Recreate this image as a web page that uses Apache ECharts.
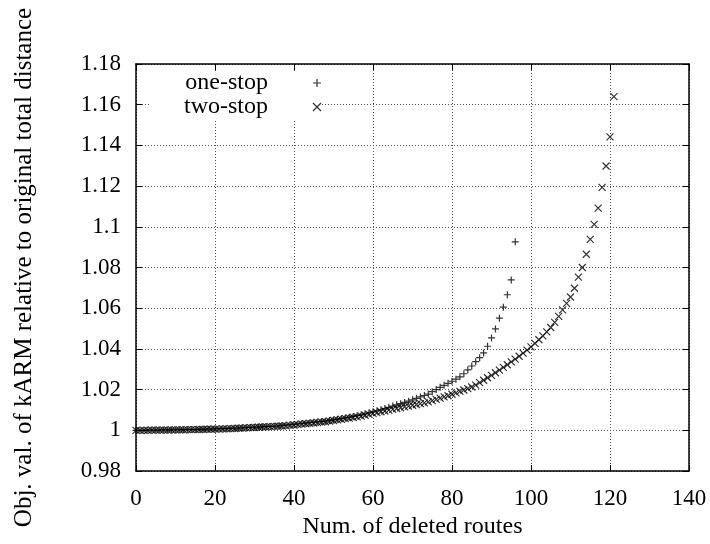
<!DOCTYPE html>
<html>
<head>
<meta charset="utf-8">
<script src="https://cdn.jsdelivr.net/npm/echarts@6/dist/echarts.min.js"></script>
<style>
html,body{margin:0;padding:0;background:#fff;}
#chart{width:710px;height:544px;}
</style>
</head>
<body>
<div id="chart"></div>
<script>
// ---- data ----
var xTicks = [0, 20, 40, 60, 80, 100, 120, 140];
var yTicks = [0.98, 1, 1.02, 1.04, 1.06, 1.08, 1.1, 1.12, 1.14, 1.16, 1.18];
var seriesNames = ['one-stop', 'two-stop'];

// one-stop: deleted routes 0..96
var oneStop = [
  1.0000, 1.0000, 1.0000, 1.0001, 1.0001, 1.0001, 1.0001, 1.0002, 1.0002, 1.0002,
  1.0002, 1.0003, 1.0003, 1.0003, 1.0004, 1.0004, 1.0005, 1.0005, 1.0006, 1.0006,
  1.0007, 1.0007, 1.0008, 1.0008, 1.0009, 1.0010, 1.0011, 1.0012, 1.0013, 1.0014,
  1.0015, 1.0016, 1.0017, 1.0018, 1.0019, 1.0020, 1.0021, 1.0023, 1.0025, 1.0027,
  1.0029, 1.0031, 1.0033, 1.0035, 1.0037, 1.0039, 1.0041, 1.0043, 1.0045, 1.0048,
  1.0051, 1.0054, 1.0057, 1.0060, 1.0064, 1.0068, 1.0072, 1.0076, 1.0081, 1.0086,
  1.0091, 1.0096, 1.0101, 1.0107, 1.0113, 1.0119, 1.0125, 1.0131, 1.0137, 1.0143,
  1.0150, 1.0157, 1.0164, 1.0171, 1.0178, 1.0190, 1.0200, 1.0211, 1.0221, 1.0231,
  1.0241, 1.0251, 1.0263, 1.0278, 1.0297, 1.0316, 1.0337, 1.0357, 1.0380, 1.0413,
  1.0454, 1.0498, 1.0551, 1.0605, 1.0666, 1.0739, 1.0926
];

// two-stop: deleted routes 0..121
var twoStop = [
  1.0000, 1.0000, 1.0000, 1.0000, 1.0001, 1.0001, 1.0001, 1.0001, 1.0001, 1.0002,
  1.0002, 1.0002, 1.0002, 1.0003, 1.0003, 1.0003, 1.0004, 1.0004, 1.0005, 1.0005,
  1.0006, 1.0006, 1.0007, 1.0007, 1.0008, 1.0009, 1.0010, 1.0011, 1.0012, 1.0013,
  1.0014, 1.0015, 1.0016, 1.0017, 1.0018, 1.0019, 1.0020, 1.0021, 1.0022, 1.0024,
  1.0026, 1.0028, 1.0030, 1.0032, 1.0034, 1.0036, 1.0038, 1.0040, 1.0042, 1.0045,
  1.0048, 1.0051, 1.0054, 1.0057, 1.0060, 1.0063, 1.0066, 1.0070, 1.0074, 1.0078,
  1.0083, 1.0087, 1.0091, 1.0095, 1.0099, 1.0103, 1.0107, 1.0111, 1.0115, 1.0119,
  1.0123, 1.0127, 1.0131, 1.0135, 1.0140, 1.0146, 1.0152, 1.0158, 1.0164, 1.0170,
  1.0177, 1.0184, 1.0191, 1.0198, 1.0205, 1.0213, 1.0222, 1.0234, 1.0246, 1.0258,
  1.0270, 1.0283, 1.0296, 1.0309, 1.0322, 1.0336, 1.0350, 1.0364, 1.0379, 1.0394,
  1.0410, 1.0427, 1.0445, 1.0464, 1.0484, 1.0505, 1.0530, 1.0560, 1.0592, 1.0624,
  1.0655, 1.0698, 1.0753, 1.0800, 1.0865, 1.0938, 1.1012, 1.1092, 1.1194, 1.1299,
  1.1442, 1.1640
];

var xTitle = 'Num. of deleted routes';
var yTitle = 'Obj. val. of kARM relative to original total distance';

// ---- chart ----
var FONT = 'Liberation Serif';
var plusPath = 'path://M0,4L8,4M4,0L4,8';
var crossPath = 'path://M0,0L8,8M8,0L0,8';

function toPairs(arr) {
  var out = [];
  for (var i = 0; i < arr.length; i++) out.push([i, arr[i]]);
  return out;
}
function fmtY(v) {
  return String(Number(v.toFixed(2)));
}

var markerStyle = { color: 'transparent', borderColor: '#000', borderWidth: 1.2 };
var gridLine = { show: true, lineStyle: { color: '#555', width: 1, type: [1, 2] } };
var border = { show: true, onZero: false, lineStyle: { color: '#000', width: 1.5 } };
var tick = { show: true, inside: true, length: 6, lineStyle: { color: '#000', width: 1 } };

var chart = echarts.init(document.getElementById('chart'), null, { renderer: 'canvas' });
chart.setOption({
  animation: false,
  backgroundColor: '#fff',
  grid: { left: 136, right: 21, top: 64, bottom: 70, containLabel: false },
  legend: {
    orient: 'vertical',
    left: 149,
    top: 71,
    align: 'right',
    itemWidth: 88,
    itemHeight: 8,
    itemGap: 0,
    padding: [0, 0, 0, 35],
    backgroundColor: '#fff',
    selectedMode: false,
    textStyle: { fontFamily: FONT, fontSize: 24, color: '#000', lineHeight: 24 },
    data: [
      { name: seriesNames[0], icon: plusPath, itemStyle: markerStyle },
      { name: seriesNames[1], icon: crossPath, itemStyle: markerStyle }
    ]
  },
  xAxis: [
    {
      type: 'value', position: 'bottom',
      min: xTicks[0], max: xTicks[xTicks.length - 1], interval: 20,
      name: xTitle, nameLocation: 'middle', nameGap: 44,
      nameTextStyle: { fontFamily: FONT, fontSize: 24, color: '#000' },
      axisLine: border, axisTick: tick, splitLine: gridLine,
      axisLabel: { fontFamily: FONT, fontSize: 23, color: '#000', margin: 16 }
    },
    {
      type: 'value', position: 'top',
      min: xTicks[0], max: xTicks[xTicks.length - 1], interval: 20,
      axisLine: border, axisTick: tick, splitLine: { show: false },
      axisLabel: { show: false }
    }
  ],
  yAxis: [
    {
      type: 'value', position: 'left',
      min: yTicks[0], max: yTicks[yTicks.length - 1], interval: 0.02,
      name: yTitle, nameLocation: 'middle', nameGap: 99,
      nameTextStyle: { fontFamily: FONT, fontSize: 25, color: '#000' },
      axisLine: border, axisTick: tick, splitLine: gridLine,
      axisLabel: { fontFamily: FONT, fontSize: 23, color: '#000', margin: 15, formatter: fmtY }
    },
    {
      type: 'value', position: 'right',
      min: yTicks[0], max: yTicks[yTicks.length - 1], interval: 0.02,
      axisLine: border, axisTick: tick, splitLine: { show: false },
      axisLabel: { show: false }
    }
  ],
  series: [
    {
      name: seriesNames[0], type: 'scatter', symbol: plusPath, symbolSize: 7,
      itemStyle: markerStyle, data: toPairs(oneStop), emphasis: { disabled: true }
    },
    {
      name: seriesNames[1], type: 'scatter', symbol: crossPath, symbolSize: 7,
      itemStyle: markerStyle, data: toPairs(twoStop), emphasis: { disabled: true }
    }
  ]
});
</script>
</body>
</html>
